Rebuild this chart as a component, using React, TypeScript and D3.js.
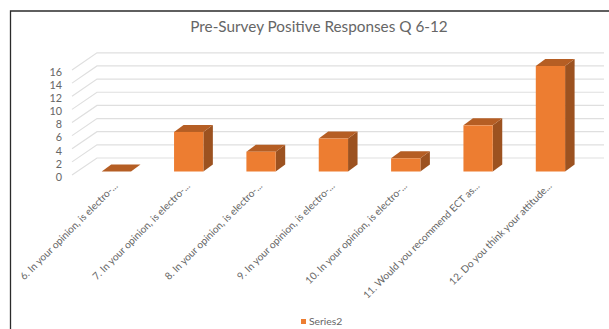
import React from "react";
import * as d3 from "d3";

const categories = [
  "6. In your opinion, is electro-...",
  "7. In your opinion, is electro-...",
  "8. In your opinion, is electro-...",
  "9. In your opinion, is electro-...",
  "10. In your opinion, is electro-...",
  "11. Would you recommend ECT as...",
  "12. Do you think your attitude...",
];
const seriesValues = [0, 6, 3, 5, 2, 7, 16];
const tickValues = [0, 2, 4, 6, 8, 10, 12, 14, 16];
const chartTitle = "Pre-Survey Positive Responses Q 6-12";
const seriesName = "Series2";

const FONT = "Lato, 'Open Sans', sans-serif";
const TEXT = "#666";
const GRID = "#dfdfdf";
const DEPTH_X = 9.5;
const DEPTH_Y = 7;

export default function App() {
  const x = d3.scaleBand<string>().domain(categories).range([80, 586.8]).paddingInner(0.595).paddingOuter(0.3);
  const y = d3.scaleLinear().domain([0, 16]).range([171.5, 66]);
  const backY = d3.scaleLinear().domain([0, 16]).range([158, 52.8]);
  const labelY = d3.scaleLinear().domain([0, 16]).range([177, 72]);
  const bw = x.bandwidth();

  return (
    <svg
      width={609}
      height={329}
      style={{ position: "fixed", left: 0, top: 0, background: "#fff" }}
      fontFamily={FONT}
    >
      <path d="M10.5 329V11H609" fill="none" stroke="#2b2b2b" strokeWidth={1.3} />
      <text x={319} y={31.5} textAnchor="middle" fontSize={15.3} letterSpacing={0} fill={TEXT}>
        {chartTitle}
      </text>

      {tickValues.map((t) => (
        <g key={t}>
          <path
            d={`M72 ${labelY(t) - 2}L97 ${backY(t)}H604`}
            fill="none"
            stroke={GRID}
            strokeWidth={1.2}
          />
          <text x={62} y={labelY(t) + 3.8} textAnchor="end" fontSize={10.8} fill={TEXT}>
            {t}
          </text>
        </g>
      ))}

      {categories.map((c, i) => {
        const x0 = x(c)!;
        const x1 = x0 + bw;
        const top = y(seriesValues[i]);
        const base = y(0);
        const tip = x0 + bw / 2 - 0.5;
        return (
          <g key={c}>
            <path
              d={`M${x1} ${top}L${x1 + DEPTH_X} ${top - DEPTH_Y}V${base - DEPTH_Y}L${x1} ${base}Z`}
              fill="#9c5220"
            />
            <path
              d={`M${x0} ${top}L${x0 + DEPTH_X} ${top - DEPTH_Y}H${x1 + DEPTH_X}L${x1} ${top}Z`}
              fill="#b55e24"
            />
            {seriesValues[i] > 0 && (
              <rect x={x0} y={top} width={bw} height={base - top} fill="#ed7d31" />
            )}
            <text
              transform={`translate(${tip},184) rotate(-45)`}
              textAnchor="end"
              dy="0.35em"
              fontSize={10.1}
              fill={TEXT}
            >
              {c}
            </text>
          </g>
        );
      })}

      <rect x={301} y={319} width={5} height={5} fill="#ed7d31" />
      <text x={309} y={325} fontSize={10.4} fill={TEXT}>
        {seriesName}
      </text>
    </svg>
  );
}
